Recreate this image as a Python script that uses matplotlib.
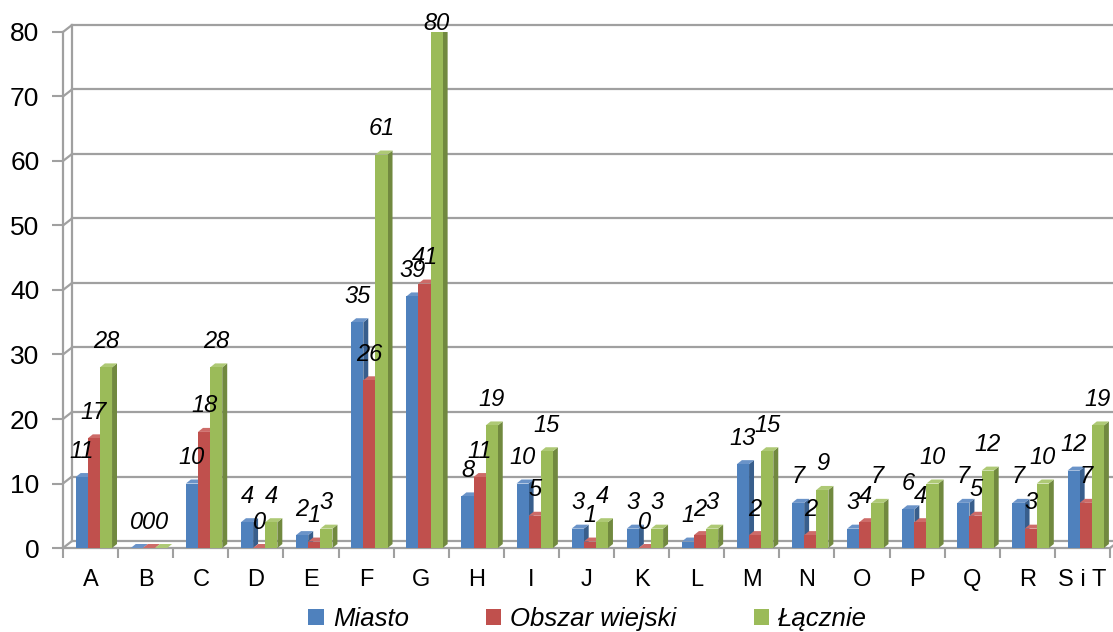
import matplotlib
matplotlib.use("Agg")
import matplotlib.pyplot as plt
from matplotlib.patches import Polygon, Patch
from matplotlib.transforms import ScaledTranslation

categories = ["A", "B", "C", "D", "E", "F", "G", "H", "I", "J",
              "K", "L", "M", "N", "O", "P", "Q", "R", "S i T"]
miasto = [11, 0, 10, 4, 2, 35, 39, 8, 10, 3, 3, 1, 13, 7, 3, 6, 7, 7, 12]
obszar_wiejski = [17, 0, 18, 0, 1, 26, 41, 11, 5, 1, 0, 2, 2, 2, 4, 4, 5, 3, 7]
lacznie = [28, 0, 28, 4, 3, 61, 80, 19, 15, 4, 3, 3, 15, 9, 7, 10, 12, 10, 19]
series_names = ["Miasto", "Obszar wiejski", "Łącznie"]
yticks = [0, 10, 20, 30, 40, 50, 60, 70, 80]

plt.rcParams["font.family"] = ["Liberation Sans", "DejaVu Sans"]

front = ["#4F81BD", "#C0504D", "#9BBB59"]
side = ["#385E8C", "#8E3A38", "#71893F"]
top = ["#6A93C8", "#CD6B68", "#AEC975"]
grid_c = "#A0A0A0"

fig = plt.figure(figsize=(11.13, 6.32), dpi=100)
ax = fig.add_axes([0.0566, 0.1329, 0.9407, 0.8165])
ax.set_xlim(-0.5, len(categories) - 0.5)
ax.set_ylim(0, 80)
for s in ax.spines.values():
    s.set_visible(False)

# back wall offset (3D look)
back = ax.transData + ScaledTranslation(9 / 100, 7 / 100, fig.dpi_scale_trans)
x0, x1 = -0.5, len(categories) - 0.5
for v in yticks:
    ax.plot([x0, x1], [v, v], color=grid_c, lw=1.6, transform=back, clip_on=False, zorder=1)
    ax.annotate("", xy=(x0, v), xycoords=back, xytext=(x0, v), textcoords="data",
                arrowprops=dict(arrowstyle="-", color=grid_c, lw=1.6, shrinkA=0, shrinkB=0))
ax.plot([x0, x0], [0, 80], color=grid_c, lw=1.6, transform=back, clip_on=False, zorder=1)
ax.plot([x0, x0], [0, 80], color=grid_c, lw=1.6, clip_on=False, zorder=2)
ax.plot([x0, x1], [0, 0], color=grid_c, lw=1.6, clip_on=False, zorder=2)
ax.annotate("", xy=(x1, 0), xycoords=back, xytext=(x1, 0), textcoords="data",
            arrowprops=dict(arrowstyle="-", color=grid_c, lw=1.6, shrinkA=0, shrinkB=0))

ax.set_yticks(yticks)
ax.tick_params(axis="y", length=8, width=1.5, color=grid_c, pad=9, labelsize=19)
ax.set_xticks(range(len(categories)))
ax.set_xticklabels(categories)
ax.set_xticks([i + 0.5 for i in range(-1, len(categories))], minor=True)
ax.tick_params(axis="x", which="major", length=0, pad=15, labelsize=17)
ax.tick_params(axis="x", which="minor", length=7, width=1.5, color=grid_c)

# bars with a side and a top face
width = 0.22
offsets = [-0.16, 0.06, 0.28]
dx, dy = 0.09, 0.62
for k, vals in enumerate([miasto, obszar_wiejski, lacznie]):
    for i, h in enumerate(vals):
        xl = i + offsets[k] - width / 2
        xr = xl + width
        ax.add_patch(Polygon([(xr, 0), (xr + dx, dy), (xr + dx, h + dy), (xr, h)],
                             closed=True, facecolor=side[k], edgecolor="none", zorder=3 + k))
        ax.add_patch(Polygon([(xl, h), (xl + dx, h + dy), (xr + dx, h + dy), (xr, h)],
                             closed=True, facecolor=top[k], edgecolor="none", zorder=3 + k))
        ax.bar(xl, h, width=width, align="edge", color=front[k], linewidth=0, zorder=3 + k)
        off = 18.7 if h < 75 else 6
        ax.annotate(str(h), xy=(i + offsets[k], h), xytext=(0, off), textcoords="offset points",
                    ha="center", va="center", fontsize=17, style="italic", zorder=10)

handles = [Patch(facecolor=c, edgecolor="none") for c in front]
fig.legend(handles, series_names, loc="center", bbox_to_anchor=(0.528, 0.02), ncol=3,
           frameon=False, handlelength=0.6, handleheight=0.6, handletextpad=0.35,
           columnspacing=3.0, prop=dict(size=18.5, style="italic"))

fig.savefig("out.png", dpi=100)
